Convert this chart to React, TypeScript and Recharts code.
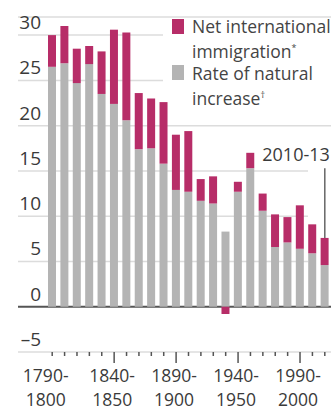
import { BarChart, Bar, XAxis, YAxis, CartesianGrid, ReferenceLine, Legend } from "recharts";

const periods = [
  "1790-1800", "1800-1810", "1810-1820", "1820-1830", "1830-1840", "1840-1850",
  "1850-1860", "1860-1870", "1870-1880", "1880-1890", "1890-1900", "1900-1910",
  "1910-1920", "1920-1930", "1930-1940", "1940-1950", "1950-1960", "1960-1970",
  "1970-1980", "1980-1990", "1990-2000", "2000-2010", "2010-13",
];
// per 1,000 population
const naturalIncrease = [
  26.5, 26.9, 24.7, 26.8, 23.5, 22.4, 20.6, 17.4, 17.5, 15.8, 12.9, 12.7,
  11.7, 11.4, 8.3, 12.7, 15.3, 10.6, 6.6, 7.1, 6.4, 5.9, 4.6,
];
const netImmigration = [
  3.5, 4.1, 3.8, 2.0, 4.7, 8.2, 9.7, 6.2, 5.5, 6.8, 6.1, 6.7,
  2.4, 3.0, -0.8, 1.1, 1.7, 1.9, 3.6, 2.8, 4.8, 3.2, 3.0,
];
const yTicks = [-5, 0, 5, 10, 15, 20, 25, 30];
const xLabels = [
  { period: "1790-1800", top: "1790-", bottom: "1800" },
  { period: "1840-1850", top: "1840-", bottom: "1850" },
  { period: "1890-1900", top: "1890-", bottom: "1900" },
  { period: "1940-1950", top: "1940-", bottom: "1950" },
  { period: "1990-2000", top: "1990-", bottom: "2000" },
];
const majorTicks = ["1840-1850", "1890-1900", "1940-1950", "1990-2000"];

const PINK = "#b72d68";
const GRAY = "#b4b4b4";
const TEXT = "#3a3a3a";
const FONT = "'Open Sans', sans-serif";

const data = periods.map((period, i) => ({
  period,
  natural: naturalIncrease[i],
  immigration: netImmigration[i],
}));
const last = data[data.length - 1];

// where some gridlines stop short (legend / annotation)
const gridEnds: Record<number, number> = { 30: 163, 25: 163, 15: 308, 10: 308, 5: 308 };

const GridLine = (p: any) => {
  const v = yTicks[p.index];
  const isZero = v === 0;
  return (
    <line
      key={p.key}
      x1={p.x1}
      y1={p.y1}
      x2={gridEnds[v] ?? p.x2}
      y2={p.y2}
      stroke={isZero ? "#555" : "#dcdcdc"}
      strokeWidth={isZero ? 2 : 1.5}
    />
  );
};

const YTick = (p: any) => {
  const v = p.payload.value;
  return (
    <text x={41} y={p.y - 6} textAnchor="end" fill={TEXT} style={{ fontFamily: FONT, fontSize: 19 }}>
      {v < 0 ? `–${Math.abs(v)}` : v}
    </text>
  );
};

const XTick = (p: any) => {
  const value = p.payload.value;
  const major = majorTicks.includes(value);
  const lab = xLabels.find((l) => l.period === value);
  const dx = value === periods[0] ? -6.5 : -2;
  return (
    <g>
      <line x1={p.x} x2={p.x} y1={p.y} y2={p.y + (major ? 11 : 4)} stroke="#555" strokeWidth={1.5} />
      {lab && (
        <text textAnchor="middle" fill={TEXT} style={{ fontFamily: FONT, fontSize: 17.5 }}>
          <tspan x={p.x + dx} y={p.y + 30}>{lab.top}</tspan>
          <tspan x={p.x + dx} y={p.y + 54}>{lab.bottom}</tspan>
        </text>
      )}
    </g>
  );
};

const AnnotationLabel = (p: any) => {
  if (!p.viewBox) return null;
  return (
    <text
      x={p.viewBox.x + 5}
      y={p.viewBox.y - 7}
      textAnchor="end"
      fill={TEXT}
      style={{ fontFamily: FONT, fontSize: 18 }}
    >
      2010-13
    </text>
  );
};

const legendLines: Record<string, [string, string, string]> = {
  immigration: ["Net international", "immigration", "*"],
  natural: ["Rate of natural", "increase", "†"],
};
const legendOrder = ["immigration", "natural"];

const LegendContent = (props: any) => {
  const items = legendOrder
    .map((k) => (props.payload || []).find((it: any) => it.dataKey === k))
    .filter(Boolean);
  return (
    <div style={{ fontFamily: FONT, fontSize: 17.5, lineHeight: "22px", color: "#444" }}>
      {items.map((item: any) => {
        const lines = legendLines[item.dataKey];
        return (
          <div key={item.dataKey} style={{ position: "relative", paddingLeft: 20, whiteSpace: "nowrap" }}>
            <span
              style={{ position: "absolute", left: 0, top: 3.5, width: 12, height: 15, background: item.color }}
            />
            {lines[0]}
            <br />
            {lines[1]}
            <sup style={{ fontSize: 9 }}>{lines[2]}</sup>
          </div>
        );
      })}
    </div>
  );
};

export default function App() {
  return (
    <div style={{ position: "absolute", left: 0, top: 0, width: 331, height: 412, background: "#fff" }}>
      <BarChart
        width={331}
        height={412}
        data={data}
        stackOffset="sign"
        margin={{ top: 17, right: 0, bottom: 0, left: 0 }}
      >
        <CartesianGrid vertical={false} horizontal={GridLine as any} />
        <XAxis
          dataKey="period"
          interval={0}
          axisLine={false}
          tickLine={false}
          tickSize={0}
          tickMargin={0}
          padding={{ left: 28, right: 0 }}
          height={60}
          tick={<XTick />}
        />
        <YAxis
          domain={[-5, 32]}
          ticks={yTicks}
          interval={0}
          width={18}
          axisLine={false}
          tickLine={false}
          tick={<YTick />}
        />
        <Legend
          layout="vertical"
          align="center"
          verticalAlign="middle"
          content={<LegendContent />}
          wrapperStyle={{ top: 15, left: 172, width: 165 }}
        />
        <Bar dataKey="natural" name="Rate of natural increase" stackId="s" fill={GRAY} barSize={8} isAnimationActive={false} />
        <Bar dataKey="immigration" name="Net international immigration" stackId="s" fill={PINK} barSize={8} isAnimationActive={false} />
        <ReferenceLine
          segment={[
            { x: last.period, y: 15.3 },
            { x: last.period, y: last.natural + last.immigration },
          ]}
          stroke="#666"
          strokeWidth={1.5}
          label={<AnnotationLabel />}
        />
      </BarChart>
    </div>
  );
}
